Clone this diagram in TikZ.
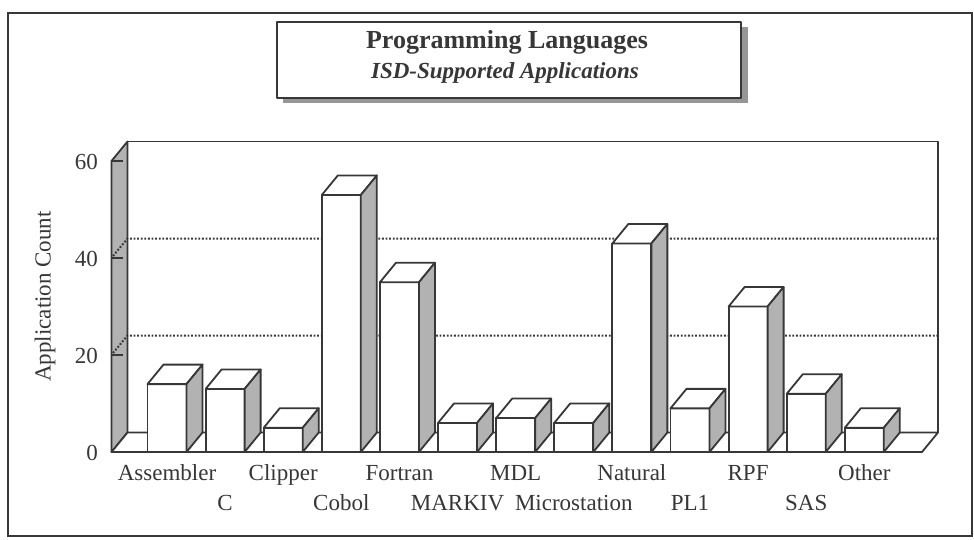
\documentclass[tikz,border=0pt]{standalone}
\usepackage{fontspec}
\setmainfont{Liberation Serif}
\definecolor{ink}{RGB}{55,55,55}
\definecolor{shade}{RGB}{178,178,178}
\definecolor{shadow}{RGB}{150,150,150}
\begin{document}
\begin{tikzpicture}[x=1pt,y=-1pt,
  edge/.style={draw=ink,line width=1.8pt,line join=round},
  sideface/.style={edge,fill=shade},
  face/.style={edge,fill=white},
  gridline/.style={draw=ink,line width=2pt,dash pattern=on 1.8pt off 1.8pt},
  lab/.style={text=ink,font=\fontsize{23}{23}\selectfont,inner sep=0pt},
]
\useasboundingbox (0,0) rectangle (974,539);
\fill[white] (0,0) rectangle (974,539);
\draw[ink,line width=2pt] (8,13) rectangle (972,536);

% title panel with its drop shadow
\fill[shadow] (283,27) rectangle (748,103);
\draw[face] (277,22) rectangle (741,98);
\node[lab,font=\bfseries\fontsize{26}{26}\selectfont,anchor=base] (title) at (507,48) {Programming Languages};
\node[lab,font=\bfseries\itshape\fontsize{23}{23}\selectfont,anchor=base] (subtitle) at (505,78) {ISD-Supported Applications};

% chart box: left wall, back wall and floor (depth offset 16, -19.5)
\draw[sideface] (111.5,452) -- (111.5,161) -- (127.5,141.5) -- (127.5,432.5) -- cycle;
\draw[edge] (127.5,141.5) -- (938,141.5) -- (938,432.5);
\draw[face] (111.5,452) -- (127.5,432.5) -- (938,432.5) -- (922,452) -- cycle;

% grid lines at 20 and 40
\foreach \v in {20,40} {
  \draw[gridline] (113,{450-\v*4.85}) -- (127.5,{432.5-\v*4.85}) -- (938,{432.5-\v*4.85});
}
% ticks and tick labels
\foreach \v in {20,40,60} {
  \draw[edge] (111.5,{452-\v*4.85}) -- (123,{452-\v*4.85});
}
\foreach \v in {0,20,40,60} {
  \node[lab,anchor=east] (tick\v) at (98,{453-\v*4.85}) {\v};
}
\node[lab,rotate=90] (ytitle) at (45,296.5) {Application Count};

% bars
\foreach \name/\val [count=\i from 0] in {Assembler/14,C/13,Clipper/5,Cobol/53,Fortran/35,MARKIV/6,MDL/7,Microstation/6,Natural/43,PL1/9,RPF/30,SAS/12,Other/5} {
  \pgfmathsetmacro\L{147.5+58.11*\i}
  \pgfmathsetmacro\R{\L+39}
  \pgfmathsetmacro\T{452-\val*4.85}
  \pgfmathsetmacro\Y{ifthenelse(mod(\i,2)==0,480,510)}
  \draw[face] (\L,452) rectangle (\R,\T);
  \draw[face] (\L,\T) -- ({\L+16},{\T-19.5}) -- ({\R+16},{\T-19.5}) -- (\R,\T) -- cycle;
  \draw[sideface] (\R,452) -- (\R,\T) -- ({\R+16},{\T-19.5}) -- ({\R+16},432.5) -- cycle;
  \node[lab,anchor=base] (cat\i) at ({\L+19.5},\Y) {\name};
}
\end{tikzpicture}
\end{document}
